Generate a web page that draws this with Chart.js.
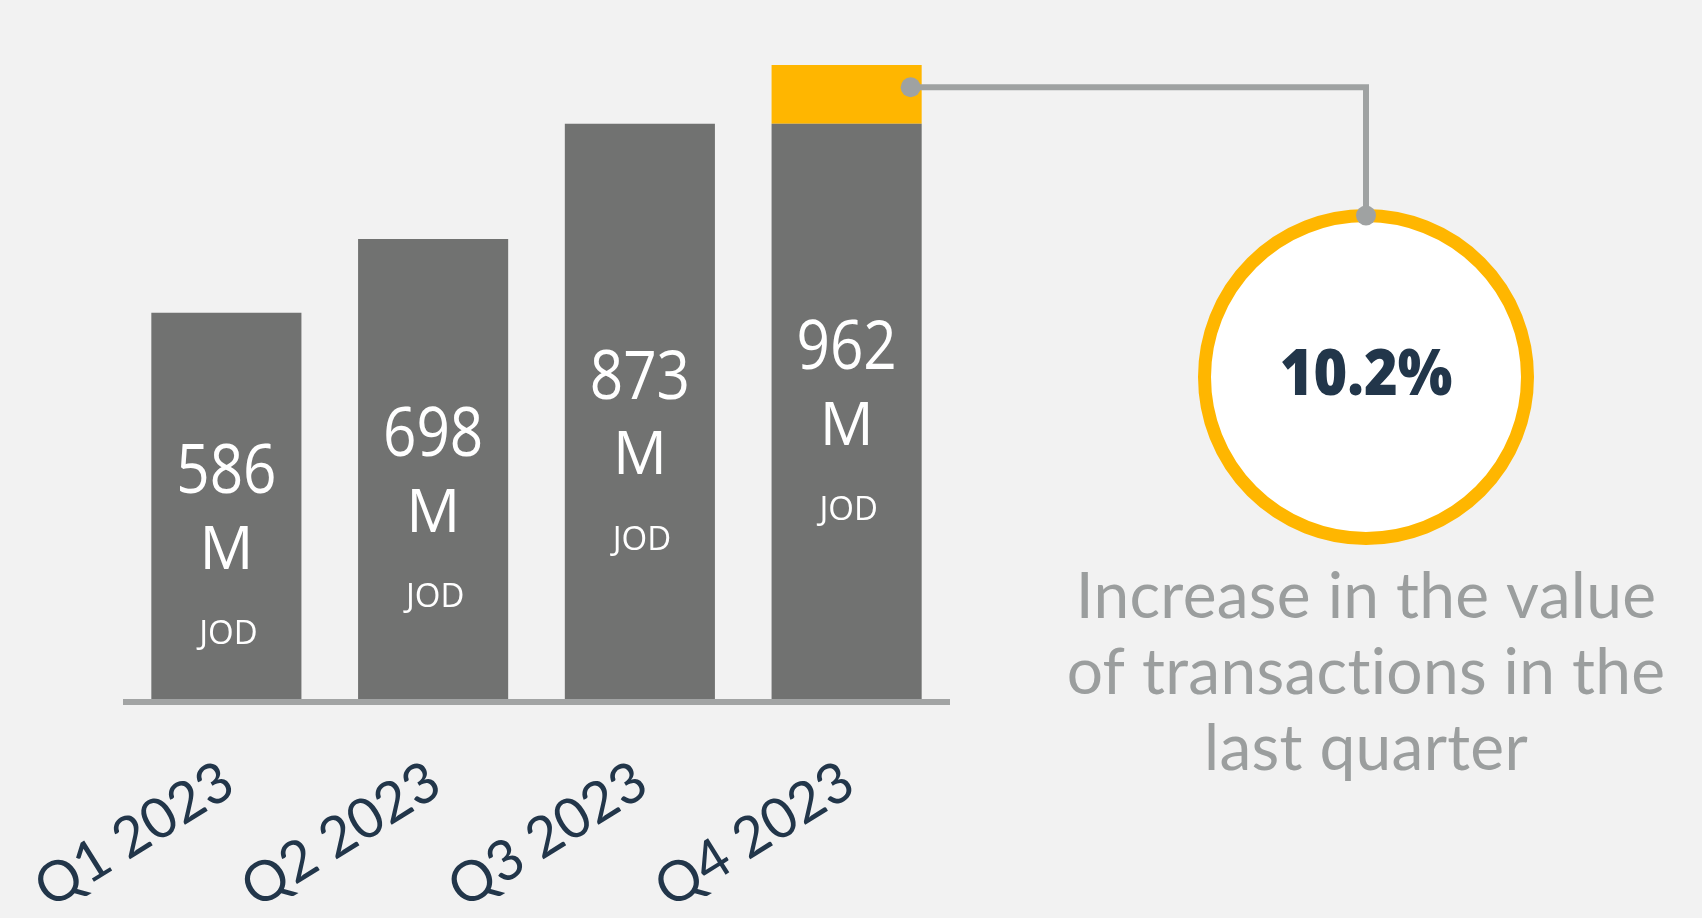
<!DOCTYPE html>
<html>
<head>
<meta charset="utf-8">
<title>Value of transactions 2023</title>
<script src="https://cdn.jsdelivr.net/npm/chart.js@4.4.0/dist/chart.umd.min.js"></script>
<style>
    html, body { margin: 0; padding: 0; background: #f2f2f2; }
    #wrap { width: 1702px; height: 918px; }
</style>
</head>
<body>
<div id="wrap"><canvas id="txChart" width="1702" height="918"></canvas></div>
<script>
/*********************** Data ************************/
var quarters = ['Q1 2023', 'Q2 2023', 'Q3 2023', 'Q4 2023'];
var totalM = [586, 698, 873, 962];     // label on each bar (M JOD)
var baseM = [586, 698, 873, 873];      // grey part, Q4 drawn up to the Q3 level
var growthM = [0, 0, 0, 89];           // yellow part: increase over Q3
var unitLabel = 'M';
var currencyLabel = 'JOD';
var noteLines = ['Increase in the value', 'of transactions in the', 'last quarter'];

/*********************** Colours ************************/
var greyBar = '#717271';
var yellow = '#ffb600';
var lineGrey = '#9fa2a2';
var navy = '#22364a';
var noteGrey = '#9b9e9e';

// change between the last two quarters, e.g. 10.2%
var growthPct = ((totalM[3] - totalM[2]) / totalM[2] * 100).toFixed(1) + '%';

/*********************** Overlay: labels, baseline, callout ************************/
var overlay = {
    id: 'overlay',
    afterDatasetsDraw: function (chart) {
        var ctx = chart.ctx;
        var area = chart.chartArea;
        var greyBars = chart.getDatasetMeta(0).data;
        var topBars = chart.getDatasetMeta(1).data;

        ctx.save();

        // baseline under the bars
        ctx.fillStyle = '#a2a4a4';
        ctx.fillRect(area.left, area.bottom, area.right - area.left, 6);

        // value labels inside the bars
        ctx.fillStyle = '#ffffff';
        ctx.textAlign = 'center';
        ctx.textBaseline = 'middle';
        greyBars.forEach(function (bar, i) {
            var top = topBars[i].y;
            var mid = (top + area.bottom) / 2 - 32;
            // the figures are a tall, narrow face: squeeze a larger size
            ctx.save();
            ctx.translate(bar.x, mid);
            ctx.scale(0.86, 1);
            ctx.font = '68px "Open Sans"';
            ctx.fillText(String(totalM[i]), 0, 0);
            ctx.restore();
            ctx.font = '60px "Open Sans"';
            ctx.fillText(unitLabel, bar.x, mid + 78);
            ctx.font = '33px "Open Sans"';
            ctx.fillText(currencyLabel, bar.x + 2, mid + 161);
        });

        // circle with the growth figure
        var cx = 1366, cy = 377, r = 161.5;
        ctx.beginPath();
        ctx.arc(cx, cy, r, 0, Math.PI * 2);
        ctx.fillStyle = '#ffffff';
        ctx.fill();
        ctx.lineWidth = 13;
        ctx.strokeStyle = yellow;
        ctx.stroke();

        ctx.fillStyle = navy;
        ctx.save();
        ctx.translate(cx, cy);
        ctx.scale(0.9, 1);
        ctx.font = '800 64px "Open Sans"';
        ctx.fillText(growthPct, 0, 0);
        ctx.restore();

        // connector from the yellow block to the circle
        var last = topBars[3];
        var dotX = last.x + last.width / 2 - 11;
        var dotY = last.y + (last.base - last.y) * 0.38;
        ctx.beginPath();
        ctx.moveTo(dotX, dotY);
        ctx.lineTo(cx, dotY);
        ctx.lineTo(cx, cy - r);
        ctx.lineWidth = 6;
        ctx.lineJoin = 'miter';
        ctx.strokeStyle = lineGrey;
        ctx.stroke();

        ctx.fillStyle = lineGrey;
        [[dotX, dotY], [cx, cy - r]].forEach(function (p) {
            ctx.beginPath();
            ctx.arc(p[0], p[1], 10, 0, Math.PI * 2);
            ctx.fill();
        });

        // note under the circle (no ligatures, as in the original)
        ctx.fillStyle = noteGrey;
        ctx.font = '64px Lato';
        ctx.textBaseline = 'alphabetic';
        ctx.textRendering = 'optimizeSpeed';
        ctx.letterSpacing = '0.3px';
        noteLines.forEach(function (line, i) {
            ctx.fillText(line, cx, 618 + i * 76);
        });

        ctx.restore();
    }
};

/*********************** Chart ************************/
var ctx = document.getElementById('txChart').getContext('2d');

var txChart = new Chart(ctx, {
    type: 'bar',
    data: {
        labels: quarters,
        datasets: [{
            label: 'Value',
            data: baseM,
            backgroundColor: greyBar,
            borderWidth: 0
        }, {
            label: 'Increase',
            data: growthM,
            backgroundColor: yellow,
            borderWidth: 0
        }]
    },
    options: {
        responsive: false,
        animation: false,
        events: [],
        layout: {
            padding: { top: 65, left: 123, right: 752, bottom: 0 }
        },
        plugins: {
            legend: { display: false },
            tooltip: { enabled: false }
        },
        datasets: {
            bar: { categoryPercentage: 1, barPercentage: 0.726 }
        },
        scales: {
            x: {
                stacked: true,
                grid: { display: false, drawTicks: false },
                border: { display: false },
                ticks: {
                    autoSkip: false,
                    minRotation: 32,
                    maxRotation: 32,
                    padding: 49,
                    labelOffset: 2,
                    color: navy,
                    font: { family: 'Lato', size: 56 }
                },
                afterFit: function (scale) {
                    // fixed band for the slanted labels, no extra side padding
                    scale.height = 918 - 699;
                    scale.paddingLeft = 0;
                    scale.paddingRight = 0;
                }
            },
            y: {
                stacked: true,
                display: false,
                min: 0,
                max: Math.max.apply(null, totalM)
            }
        }
    },
    plugins: [overlay]
});
</script>
</body>
</html>
